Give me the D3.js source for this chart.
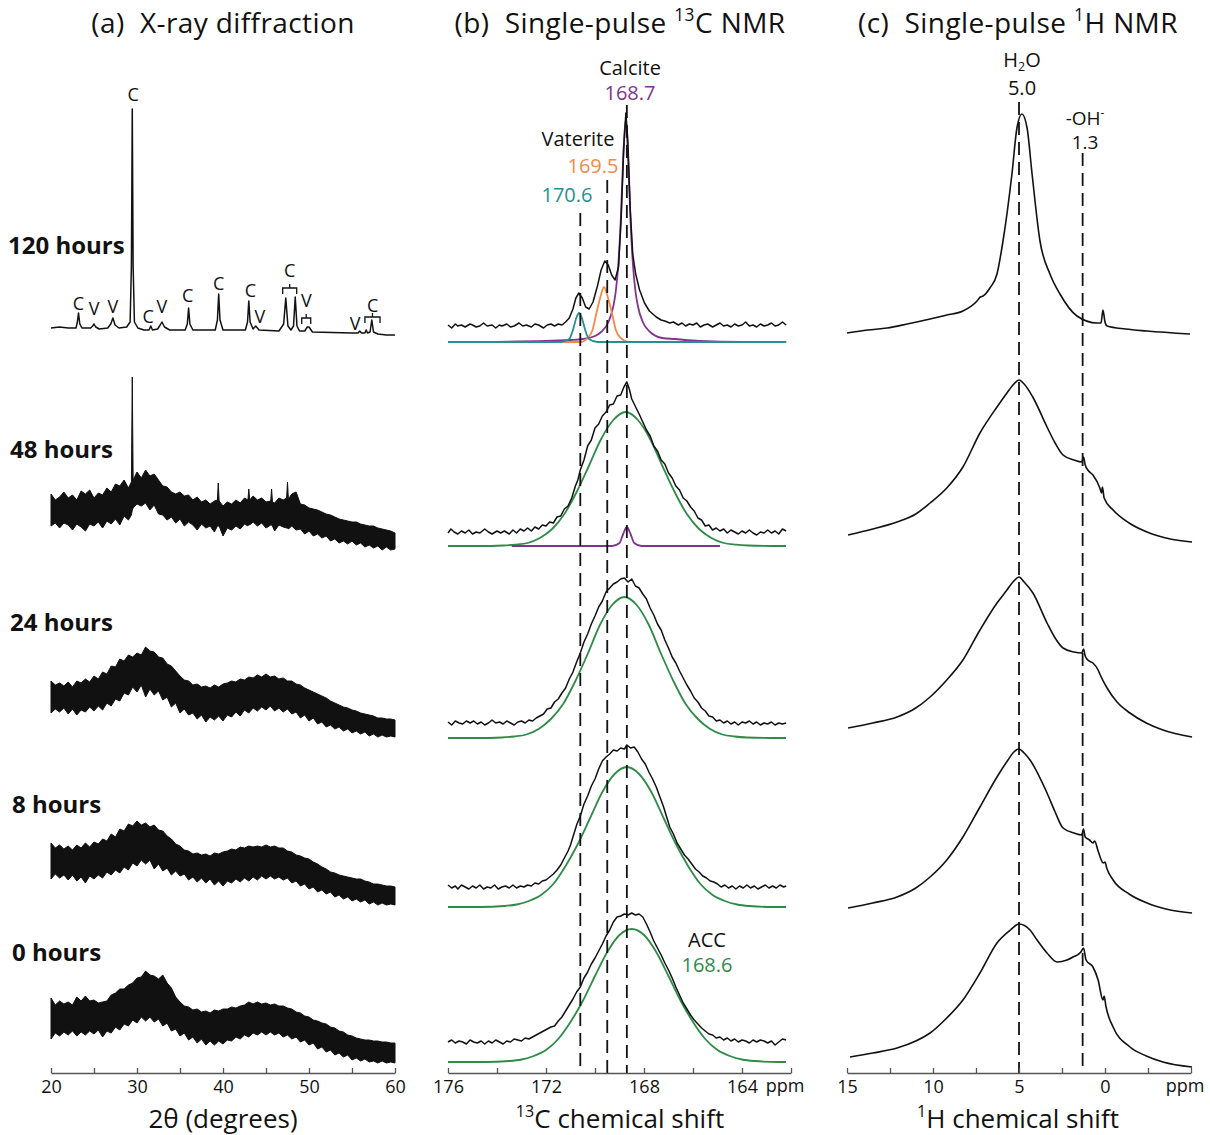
<!DOCTYPE html>
<html>
<head>
<meta charset="utf-8">
<script src="https://cdn.jsdelivr.net/npm/d3@7"></script>
<style>
  body { margin: 0; background: #fff; }
  text { font-family: "Open Sans", sans-serif; fill: #111; white-space: pre; }
</style>
</head>
<body>
<svg id="chart" width="1210" height="1135"></svg>
<script>
// ---- data ----
const hourLabels = ['120 hours', '48 hours', '24 hours', '8 hours', '0 hours'];

// XRD, 120 h: [2theta, intensity a.u.]
const xrd120 = [[20,8],[21,9],[22,8],[22.9,8],[23.05,13],[23.2,23],[23.35,12],[23.6,8],[24.6,8],[24.85,10],[25.0,12],[25.2,9],[25.6,7],
  [26.6,8],[26.95,12],[27.2,18],[27.45,11],[27.9,8],[28.8,9],[29.2,14],[29.35,70],[29.45,227],[29.55,70],[29.7,14],[30.1,8],[30.8,6],
  [31.4,6],[31.6,10],[31.8,6],[32.4,7],[32.7,11],[32.9,14],[33.2,9],[33.8,6],[35.6,6],[35.85,12],[36.0,28],[36.15,12],[36.5,6],
  [39.1,6],[39.35,16],[39.5,42],[39.65,16],[40,6],[42.6,6],[42.85,14],[43.0,35],[43.15,14],[43.5,7],[43.8,10],[44.2,6],[46.5,5],
  [46.9,10],[47.05,12],[47.3,38],[47.55,10],[47.9,6],[48.2,10],[48.4,39],[48.6,10],[48.9,5],[49.5,5],[49.8,9],[50.0,9],[50.4,4],
  [55,3],[55.7,3],[55.9,5],[56.1,3],[56.5,3],[56.65,6],[56.8,3],[57.1,4],[57.3,16],[57.5,4],[58,2],[59,1],[60,1]];

// XRD, noisy patterns: [2theta, lower edge, upper edge] of the noise band
const xrd48 = [[20,24,56],[20.5,27,50],[21,22,53],[21.5,27,58],[22,25,52],[22.5,20,55],[23,26,50],[23.5,23,59],[24,19,56],
  [24.5,26,60],[25,24,52],[25.5,28,57],[26,22,55],[26.5,29,62],[27,26,58],[27.5,31,66],[28,25,64],[28.5,34,70],[29,30,62],
  [29.35,35,68],[29.45,40,173],[29.55,42,70],[30,46,78],[30.5,44,72],[31,47,80],[31.5,40,74],[32,45,76],[32.5,36,70],[33,35,64],
  [33.5,30,63],[34,33,58],[34.5,27,56],[35,31,58],[35.5,24,54],[36,28,55],[36.5,25,50],[37,20,53],[37.5,26,48],[38,22,50],
  [38.5,24,46],[39,18,49],[39.35,24,50],[39.45,24,67],[39.55,24,49],[40,14,44],[40.5,22,48],[41,20,46],[41.5,24,50],[42,21,47],
  [42.5,26,52],[42.9,24,50],[43.0,26,61],[43.1,25,50],[43.5,28,54],[44,24,50],[44.5,27,52],[45,22,48],[45.55,25,49],[45.65,25,61],
  [45.75,24,48],[46,19,47],[46.5,25,52],[47,23,50],[47.4,22,52],[47.5,22,68],[47.6,21,51],[48,24,56],[48.5,20,58],[49,21,46],
  [49.5,16,45],[50,19,42],[50.5,14,41],[51,16,40],[51.5,12,38],[52,14,36],[52.5,9,35],[53,11,33],[53.5,7,31],[54,9,30],[54.5,6,29],
  [55,9,28],[55.5,5,28],[56,7,26],[56.5,3,25],[57,5,24],[57.5,2,24],[58,4,22],[58.5,0,21],[59,3,20],[59.5,0,19],[60,1,17]];
const xrd24 = [[20,24,56],[20.5,28,52],[21,25,54],[21.5,29,51],[22,23,55],[22.5,28,50],[23,22,56],[23.5,27,54],[24,25,58],
  [24.5,30,55],[25,26,61],[25.5,31,58],[26,27,65],[26.5,34,63],[27,31,71],[27.5,38,70],[28,36,78],[28.5,44,76],[29,42,82],
  [29.5,50,80],[30,45,84],[30.5,52,82],[31,40,90],[31.5,48,86],[32,42,85],[32.5,46,80],[33,37,79],[33.5,40,73],[34,30,71],
  [34.5,34,66],[35,24,61],[35.5,28,57],[36,22,56],[36.5,24,52],[37,18,53],[37.5,22,50],[38,15,51],[38.5,20,49],[39,17,52],
  [39.5,21,50],[40,16,53],[40.5,22,54],[41,20,56],[41.5,25,55],[42,21,58],[42.5,27,57],[43,24,60],[43.5,29,59],[44,26,62],
  [44.5,30,60],[45,27,63],[45.5,31,60],[46,26,61],[46.5,29,58],[47,25,59],[47.5,28,56],[48,23,56],[48.5,25,53],[49,19,52],
  [49.5,22,49],[50,16,47],[50.5,19,45],[51,13,43],[51.5,15,41],[52,10,39],[52.5,12,36],[53,8,34],[53.5,10,32],[54,6,30],
  [54.5,8,29],[55,4,27],[55.5,6,26],[56,3,24],[56.5,5,23],[57,1,22],[57.5,3,21],[58,0,19],[58.5,2,19],[59,0,18],[59.5,1,18],[60,0,17]];
const xrd8 = [[20,26,62],[20.5,31,57],[21,27,60],[21.5,30,56],[22,25,59],[22.5,30,55],[23,24,60],[23.5,28,57],[24,22,62],
  [24.5,29,58],[25,26,63],[25.5,30,61],[26,27,66],[26.5,33,64],[27,30,71],[27.5,35,68],[28,32,76],[28.5,38,74],[29,35,81],
  [29.5,42,79],[30,39,84],[30.5,45,80],[31,41,82],[31.5,45,78],[32,36,80],[32.5,41,75],[33,34,74],[33.5,37,69],[34,30,66],
  [34.5,34,61],[35,29,59],[35.5,31,55],[36,25,54],[36.5,28,51],[37,23,52],[37.5,27,50],[38,22,51],[38.5,26,49],[39,20,52],
  [39.5,24,51],[40,19,53],[40.5,24,54],[41,22,56],[41.5,26,55],[42,23,58],[42.5,27,57],[43,24,59],[43.5,28,58],[44,25,59],
  [44.5,29,58],[45,26,60],[45.5,29,58],[46,26,59],[46.5,28,57],[47,25,57],[47.5,27,54],[48,22,53],[48.5,24,50],[49,19,49],
  [49.5,21,47],[50,16,46],[50.5,18,43],[51,13,41],[51.5,15,38],[52,11,36],[52.5,13,33],[53,8,32],[53.5,10,30],[54,6,29],
  [54.5,8,28],[55,4,27],[55.5,6,26],[56,3,26],[56.5,5,24],[57,1,23],[57.5,3,21],[58,0,21],[58.5,2,20],[59,0,19],[59.5,1,19],[60,0,18]];
const xrd0 = [[20,24,65],[20.5,30,58],[21,27,62],[21.5,31,59],[22,28,61],[22.5,32,58],[23,27,66],[23.5,31,62],[24,28,67],
  [24.5,32,62],[25,29,63],[25.5,33,60],[26,26,61],[26.5,32,62],[27,30,68],[27.5,36,70],[28,33,74],[28.5,39,74],[29,37,78],
  [29.5,43,80],[30,40,85],[30.5,46,86],[31,42,92],[31.5,46,88],[32,41,87],[32.5,44,84],[33,37,88],[33.5,40,80],[34,32,75],
  [34.5,34,66],[35,27,61],[35.5,30,57],[36,23,56],[36.5,26,53],[37,20,54],[37.5,24,51],[38,18,52],[38.5,22,50],[39,18,53],
  [39.5,22,52],[40,19,54],[40.5,23,54],[41,22,56],[41.5,26,55],[42,24,57],[42.5,28,58],[43,26,61],[43.5,30,59],[44,28,61],
  [44.5,31,59],[45,28,60],[45.5,31,58],[46,28,59],[46.5,30,57],[47,26,57],[47.5,28,55],[48,24,54],[48.5,26,51],[49,21,50],
  [49.5,23,47],[50,18,46],[50.5,20,43],[51,14,42],[51.5,16,40],[52,11,39],[52.5,13,36],[53,8,35],[53.5,10,32],[54,6,31],
  [54.5,8,28],[55,3,27],[55.5,5,25],[56,2,24],[56.5,4,23],[57,1,23],[57.5,2,22],[58,0,22],[58.5,2,21],[59,0,21],[59.5,1,20],[60,0,20]];

// XRD peak assignments (120 h): [2theta, label height a.u., phase]
const xrdPeakLabels = [[23.2,26,'C'],[25.0,21,'V'],[27.2,23,'V'],[29.55,235,'C'],[31.3,13,'C'],[32.9,23,'V'],[35.9,34,'C'],
  [39.5,46,'C'],[43.2,39,'C'],[44.3,13,'V'],[47.75,59,'C'],[49.7,29,'V'],[55.35,6,'V'],[57.4,24,'C']];
// grouped reflections: [from, to, height a.u.]
const xrdBrackets = [[46.94,48.57,48],[49.15,50.2,18],[56.5,58.26,19]];

// 13C single-pulse spectra: [ppm, intensity a.u.]
const c13Exp120 = [[176,17],[175.85,14],[175.7,18],[175.6,16],[175.45,17],[175.3,15],[175.1,18],[175,17],[174.85,15],[174.7,16],
  [174.55,19],[174.4,16],[174.2,17],[174.05,14],[173.9,17],[173.8,16],[173.6,18],[173.45,15],[173.3,16],[173.1,19],[172.95,16],
  [172.8,17],[172.6,15],[172.45,18],[172.3,17],[172.1,14],[171.95,17],[171.8,18],[171.65,16],[171.5,18],[171.35,17],[171.2,20],
  [171.05,24],[170.9,33],[170.78,44],[170.66,49],[170.52,44],[170.38,35],[170.24,33],[170.08,40],[169.9,56],[169.75,72],
  [169.6,81],[169.46,77],[169.32,67],[169.18,62],[169.04,75],[168.93,125],[168.83,192],[168.74,229],[168.66,202],[168.56,132],
  [168.46,88],[168.34,68],[168.18,52],[167.98,39],[167.78,31],[167.5,25],[167.3,22],[167.15,21],[166.95,19],[166.8,20],[166.6,17],
  [166.45,19],[166.3,16],[166.15,18],[166,17],[165.85,19],[165.7,15],[165.55,17],[165.4,18],[165.2,15],[165.05,17],[164.9,19],
  [164.75,16],[164.6,17],[164.45,15],[164.3,18],[164.15,16],[164,17],[163.85,20],[163.7,16],[163.55,17],[163.4,15],[163.25,18],
  [163.1,16],[162.95,17],[162.8,19],[162.65,16],[162.5,17],[162.35,20],[162.2,17]];
const c13Exp48 = [[176,13],[175.88,17],[175.75,14],[175.6,12],[175.45,15],[175.3,13],[175.15,16],[175,12],[174.85,14],[174.7,13],
  [174.5,17],[174.35,14],[174.2,12],[174,15],[173.85,13],[173.7,15],[173.5,12],[173.35,16],[173.2,13],[173.05,17],[172.9,15],
  [172.75,18],[172.6,15],[172.45,19],[172.3,17],[172.15,21],[172,20],[171.85,24],[171.7,23],[171.55,29],[171.4,30],[171.25,37],
  [171.1,40],[170.95,48],[170.8,60],[170.7,66],[170.6,76],[170.45,86],[170.3,100],[170.15,106],[170,118],[169.85,122],[169.7,130],
  [169.55,134],[169.4,141],[169.25,142],[169.1,150],[168.95,151],[168.82,159],[168.7,164],[168.6,157],[168.5,147],[168.42,143],
  [168.3,137],[168.18,131],[168.05,124],[167.9,116],[167.75,110],[167.6,100],[167.45,95],[167.3,86],[167.15,82],[167,73],
  [166.85,68],[166.7,60],[166.55,56],[166.4,48],[166.25,45],[166.1,39],[165.95,35],[165.8,28],[165.65,26],[165.5,20],[165.35,21],
  [165.2,16],[165.05,18],[164.9,15],[164.75,17],[164.6,13],[164.45,16],[164.3,14],[164.15,12],[164,15],[163.85,13],[163.7,16],
  [163.55,13],[163.4,11],[163.25,14],[163.1,13],[162.95,16],[162.8,13],[162.65,15],[162.5,12],[162.35,17],[162.2,15]];
const c13Exp24 = [[176,16],[175.85,13],[175.7,17],[175.55,15],[175.4,14],[175.25,17],[175.1,15],[174.95,17],[174.8,14],
  [174.65,16],[174.5,13],[174.35,15],[174.2,18],[174.05,15],[173.9,16],[173.75,14],[173.6,17],[173.45,15],[173.3,13],[173.15,16],
  [173,17],[172.85,15],[172.7,18],[172.55,17],[172.4,20],[172.25,22],[172.1,24],[171.95,29],[171.8,30],[171.65,36],[171.5,39],
  [171.35,45],[171.2,50],[171.05,59],[170.9,66],[170.75,76],[170.6,85],[170.45,96],[170.3,104],[170.15,114],[170,122],
  [169.85,131],[169.7,137],[169.55,146],[169.4,150],[169.25,154],[169.1,156],[168.95,159],[168.8,160],[168.65,156],[168.5,159],
  [168.35,152],[168.2,150],[168.05,144],[167.9,139],[167.75,130],[167.6,123],[167.45,114],[167.3,108],[167.15,98],[167,90],
  [166.85,81],[166.7,75],[166.55,67],[166.4,60],[166.25,53],[166.1,47],[165.95,40],[165.8,36],[165.65,30],[165.5,27],[165.35,22],
  [165.2,21],[165.05,17],[164.9,18],[164.75,15],[164.6,17],[164.45,14],[164.3,16],[164.15,13],[164,16],[163.85,15],[163.7,17],
  [163.55,14],[163.4,16],[163.25,13],[163.1,15],[162.95,14],[162.8,16],[162.65,13],[162.5,15],[162.35,14],[162.2,15]];
const c13Exp8 = [[176,22],[175.85,19],[175.7,21],[175.6,18],[175.45,22],[175.3,20],[175.15,18],[175,21],[174.85,19],[174.7,22],
  [174.55,18],[174.4,20],[174.25,19],[174.1,22],[173.95,18],[173.8,20],[173.65,21],[173.5,19],[173.35,22],[173.2,19],[173.05,21],
  [172.9,20],[172.75,22],[172.6,21],[172.45,24],[172.3,23],[172.15,26],[172,27],[171.85,30],[171.7,33],[171.55,37],[171.4,42],
  [171.25,49],[171.1,56],[171,62],[170.9,70],[170.75,82],[170.6,91],[170.45,103],[170.3,111],[170.15,121],[170,128],[169.85,138],
  [169.7,146],[169.55,150],[169.4,153],[169.25,157],[169.1,156],[168.95,159],[168.8,158],[168.7,162],[168.55,159],[168.4,160],
  [168.25,155],[168.1,148],[167.95,143],[167.8,135],[167.65,128],[167.5,120],[167.35,110],[167.2,100],[167.05,88],[166.95,80],
  [166.8,73],[166.65,64],[166.5,58],[166.35,52],[166.2,48],[166.05,43],[165.9,38],[165.75,35],[165.6,31],[165.45,29],[165.3,26],
  [165.15,25],[165,23],[164.85,20],[164.7,22],[164.55,19],[164.4,21],[164.25,18],[164.1,21],[163.95,19],[163.8,22],[163.65,19],
  [163.5,21],[163.35,18],[163.2,20],[163.05,22],[162.9,19],[162.75,21],[162.6,19],[162.45,22],[162.3,20],[162.2,21]];
const c13Exp0 = [[176,20],[175.85,22],[175.7,19],[175.55,21],[175.4,20],[175.25,18],[175.1,22],[174.95,20],[174.8,19],[174.65,21],
  [174.5,18],[174.35,21],[174.2,19],[174.05,22],[173.9,20],[173.75,18],[173.6,21],[173.45,20],[173.3,23],[173.15,22],[173,21],
  [172.85,24],[172.7,23],[172.55,25],[172.4,27],[172.25,29],[172.1,31],[171.95,33],[171.8,35],[171.65,36],[171.5,41],[171.35,45],
  [171.2,51],[171.05,57],[170.9,63],[170.75,70],[170.6,75],[170.45,84],[170.3,90],[170.15,98],[170,104],[169.85,111],[169.7,118],
  [169.55,126],[169.4,132],[169.25,140],[169.1,145],[168.95,146],[168.8,148],[168.65,147],[168.5,149],[168.35,147],[168.2,148],
  [168.05,145],[167.9,138],[167.75,130],[167.6,121],[167.45,114],[167.3,107],[167.15,99],[167,92],[166.85,84],[166.7,75],
  [166.55,67],[166.4,59],[166.25,53],[166.1,47],[165.95,42],[165.8,38],[165.65,34],[165.5,31],[165.35,28],[165.2,27],[165.05,24],
  [164.9,25],[164.75,22],[164.6,24],[164.45,21],[164.3,23],[164.15,20],[164,22],[163.85,21],[163.7,19],[163.55,22],[163.4,20],
  [163.25,22],[163.1,21],[162.95,19],[162.8,21],[162.65,17],[162.5,20],[162.35,23],[162.2,22]];

// 13C fitted components: [ppm, intensity a.u.]
const accFit48 = [[176,0],[174.75,0],[173.75,0.5],[173.25,1.3],[172.75,3],[172.25,8],[171.75,17],[171.25,32],[170.75,54],[170.25,80],
  [169.75,107],[169.25,126],[168.75,134],[168.25,126],[167.75,107],[167.25,80],[166.75,54],[166.25,32],[165.75,17],[165.25,8],
  [164.75,3],[164.25,1.3],[163.75,0.5],[162.75,0],[162.2,0]];
const accFit24 = [[176,0],[174.8,0],[173.8,0.5],[173.3,1.5],[172.8,3.5],[172.3,9],[171.8,19],[171.3,34],[170.8,57],[170.3,84],
  [169.8,113],[169.3,133],[168.8,141],[168.3,133],[167.8,113],[167.3,84],[166.8,57],[166.3,34],[165.8,19],[165.3,9],[164.8,3.5],
  [164.3,1.5],[163.8,0.5],[162.8,0],[162.2,0]];
const accFit8 = [[176,0],[174.7,0],[173.7,1],[173.2,2.5],[172.7,6],[172.2,12],[171.7,23],[171.2,41],[170.7,63],[170.2,89],
  [169.7,115],[169.2,133],[168.7,140],[168.2,133],[167.7,115],[167.2,89],[166.7,63],[166.2,41],[165.7,23],[165.2,12],[164.7,6],
  [164.2,2.5],[163.7,1],[162.7,0],[162.2,0]];
const accFit0 = [[176,0],[174.5,0],[173.5,1],[173,2.5],[172.5,6],[172,12],[171.5,23],[171,40],[170.5,61],[170,86],[169.5,110],
  [169,127],[168.5,133],[168,127],[167.5,110],[167,86],[166.5,61],[166,40],[165.5,23],[165,12],[164.5,6],[164,2.5],[163.5,1],
  [162.5,0],[162.2,0]];
const calciteFit120 = [[176,0],[172,1],[171,2],[170.5,3],[170,6],[169.75,10],[169.45,20],[169.25,36],[169.15,51],[169.05,77],
  [168.95,121],[168.85,184],[168.75,222],[168.65,184],[168.55,121],[168.45,77],[168.35,51],[168.25,36],[168.05,20],[167.75,10],
  [167.25,4],[166.75,3],[165.75,1],[164,0],[162.2,0]];
const calciteFit48 = [[173.4,0],[169.3,0],[169.0,3],[168.85,12],[168.7,19],[168.55,12],[168.4,3],[168.1,0],[164.9,0]];
const vateriteFitA = [[176,0],[170.6,0],[170.3,4],[170.1,12],[169.95,28],[169.78,45],[169.63,55],[169.48,45],[169.3,28],
  [169.15,12],[168.95,4],[168.6,0],[162.2,0]];
const vateriteFitB = [[176,0],[171.4,0],[171.05,3],[170.9,12],[170.75,25],[170.65,29],[170.55,25],[170.4,12],[170.25,3],
  [169.9,0],[162.2,0]];
const c13Refs = [170.6, 169.5, 168.7];

// 1H single-pulse spectra: [ppm, intensity a.u.]
const h1Exp120 = [[15,1],[13.8,4],[12.67,6],[11.5,10],[10.17,15],[9.2,19],[8.26,23],[7.44,33],[7.25,37],[7.09,38],[6.69,46],
  [6.28,60],[5.93,93],[5.41,160],[5.12,206],[4.83,220],[4.53,206],[4.24,160],[3.78,93],[3.2,60],[2.62,40],[1.63,18],[0.47,11],
  [0.23,11],[0.12,24],[0.0,12],[-0.12,8],[-1.2,5],[-2.44,3],[-4.94,0]];
const h1Exp48 = [[14.94,10],[13.5,16],[12.09,23],[11,31],[10.17,42],[9.2,57],[8.26,78],[7.27,112],[6.28,138],[5.7,152],[5.3,161],
  [5.0,165],[4.7,161],[4.2,148],[3.37,118],[2.9,102],[2.44,90],[1.8,85],[1.35,83],[1.25,88],[1.15,80],[1.0,75],[0.7,70],[0.3,57],
  [0.2,52],[0.15,58],[0.05,47],[-0.47,35],[-1.4,22],[-2.44,13],[-3.8,6],[-5.06,3]];
const h1Exp24 = [[14.94,12],[13.5,17],[12.09,23],[11,32],[10.17,43],[9.2,60],[8.26,80],[7.27,110],[6.28,137],[5.7,150],[5.3,159],
  [5.0,163],[4.7,158],[4.19,147],[3.37,117],[2.9,102],[2.44,92],[1.8,88],[1.35,87],[1.25,91],[1.15,84],[1.0,80],[0.7,77],[0.4,70],
  [0.3,66],[-0.12,52],[-0.7,38],[-1.45,27],[-2.4,17],[-3.37,10],[-5.06,3]];
const h1Exp8 = [[14.94,7],[13.5,12],[12.09,18],[11,27],[10.17,38],[9.2,55],[8.26,78],[7.27,108],[6.28,138],[5.64,155],[5.3,163],
  [5.0,166],[4.7,162],[4.36,155],[3.37,122],[2.9,103],[2.44,87],[1.8,82],[1.35,80],[1.25,86],[1.15,78],[0.9,75],[0.7,72],[0.6,74],
  [0.4,64],[0.1,52],[0.0,53],[-0.1,47],[-0.47,35],[-1.4,21],[-2.44,12],[-3.8,5],[-5.06,2]];
const h1Exp0 = [[14.83,11],[13.5,15],[12.09,20],[11,27],[10.17,35],[9.2,50],[8.26,68],[7.27,95],[6.28,125],[5.5,138],[5.0,144],
  [4.36,138],[3.95,128],[3.37,115],[2.79,106],[2.21,108],[1.86,111],[1.4,116],[1.25,120],[1.1,108],[0.7,101],[0.4,88],[0.12,68],
  [0.05,72],[-0.05,62],[-0.47,41],[-1.45,21],[-2.4,12],[-3.37,6],[-5.06,1]];
const h1Refs = [5.0, 1.3];

// ---- layout ----
const svg = d3.select('#chart');
const axisY = 1073;
const ink = '#111';
const colors = { acc: '#2e8b48', calcite: '#80348e', vatA: '#f5894a', vatB: '#23918e' };

const xXrd = d3.scaleLinear().domain([20, 60]).range([51, 395]);
const xC = d3.scaleLinear().domain([176, 162]).range([448, 791]);
const xH = d3.scaleLinear().domain([15, -5]).range([847, 1191]);

// baseline (px) of each stacked trace: 120, 48, 24, 8, 0 h
const xrdBase = [336, 550, 737, 905, 1063];
const c13Base = [342, 546, 738, 907, 1062];
const h1Base = [334, 545, 740, 915, 1068];
const rowY = base => d3.scaleLinear().domain([0, 100]).range([base, base - 100]);

function addText(g, x, y, parts, size, anchor, color) {
    const t = g.append('text')
        .attr('x', x).attr('y', y)
        .attr('text-anchor', anchor || 'middle')
        .style('font-size', size + 'px')
        .style('fill', color || ink);
    let shift = 0;
    for (const [str, kind] of parts) {
        const s = t.append('tspan').text(str);
        let target = 0;
        if (kind === 'sup') { target = -size * 0.42; s.style('font-size', (size * 0.62) + 'px'); }
        if (kind === 'sub') { target = size * 0.22; s.style('font-size', (size * 0.62) + 'px'); }
        if (target !== shift) { s.attr('dy', target - shift); shift = target; }
    }
    return t;
}

// ---- (a) XRD ----
const gA = svg.append('g');
const xrdBands = [xrd48, xrd24, xrd8, xrd0];

{
    const y = rowY(xrdBase[0]);
    gA.append('path')
        .datum(xrd120)
        .attr('d', d3.line().x(d => xXrd(d[0])).y(d => y(d[1])))
        .attr('fill', 'none').attr('stroke', ink).attr('stroke-width', 1.5)
        .attr('stroke-linejoin', 'round');

    xrdPeakLabels.forEach(([t, h, lab]) => {
        addText(gA, xXrd(t), y(h), [[lab]], 18);
    });

    xrdBrackets.forEach(([a, b, h]) => {
        const m = (a + b) / 2;
        gA.append('path')
            .attr('d', `M${xXrd(a)},${y(h - 6)}V${y(h)}H${xXrd(b)}V${y(h - 6)}M${xXrd(m)},${y(h)}V${y(h + 4)}`)
            .attr('fill', 'none').attr('stroke', ink).attr('stroke-width', 1.3);
    });
}

xrdBands.forEach((band, i) => {
    const y = rowY(xrdBase[i + 1]);
    gA.append('path')
        .datum(band)
        .attr('d', d3.area().x(d => xXrd(d[0])).y0(d => y(d[1])).y1(d => y(d[2])))
        .attr('fill', ink).attr('stroke', ink).attr('stroke-width', 1)
        .attr('stroke-linejoin', 'miter');
});

const hourPos = [[8, 254], [10, 458], [10, 631], [12, 813], [12, 961]];
hourLabels.forEach((lab, i) => {
    gA.append('text')
        .attr('x', hourPos[i][0]).attr('y', hourPos[i][1])
        .style('font-size', '24px').style('font-weight', 700)
        .text(lab);
});

// ---- (b) 13C NMR ----
const gB = svg.append('g');
const c13Exp = [c13Exp120, c13Exp48, c13Exp24, c13Exp8, c13Exp0];
const accFits = [null, accFit48, accFit24, accFit8, accFit0];

c13Exp.forEach((spec, i) => {
    const y = rowY(c13Base[i]);
    const smooth = d3.line().x(d => xC(d[0])).y(d => y(d[1])).curve(d3.curveMonotoneX);
    const fits = [];
    if (accFits[i]) fits.push([accFits[i], colors.acc]);
    if (i === 0) {
        fits.push([calciteFit120, colors.calcite], [vateriteFitA, colors.vatA], [vateriteFitB, colors.vatB]);
    }
    if (i === 1) fits.push([calciteFit48, colors.calcite]);
    fits.forEach(([pts, col]) => {
        gB.append('path').datum(pts).attr('d', smooth)
            .attr('fill', 'none').attr('stroke', col).attr('stroke-width', 1.8);
    });
    gB.append('path')
        .datum(spec)
        .attr('d', d3.line().x(d => xC(d[0])).y(d => y(d[1])))
        .attr('fill', 'none').attr('stroke', ink).attr('stroke-width', 1.5)
        .attr('stroke-linejoin', 'round');
});

const c13RefTop = [213, 180, 105];
c13Refs.forEach((p, i) => {
    gB.append('line')
        .attr('x1', xC(p)).attr('x2', xC(p))
        .attr('y1', c13RefTop[i]).attr('y2', axisY)
        .attr('stroke', ink).attr('stroke-width', 1.8).attr('stroke-dasharray', '13,7');
});

addText(gB, 630, 75, [['Calcite']], 20);
addText(gB, 630, 100, [['168.7']], 20, 'middle', colors.calcite);
addText(gB, 578, 146, [['Vaterite']], 20);
addText(gB, 593, 173, [['169.5']], 20, 'middle', colors.vatA);
addText(gB, 567, 202, [['170.6']], 20, 'middle', colors.vatB);
addText(gB, 707, 947, [['ACC']], 20);
addText(gB, 707, 972, [['168.6']], 20, 'middle', colors.acc);

// ---- (c) 1H NMR ----
const gC = svg.append('g');
const h1Exp = [h1Exp120, h1Exp48, h1Exp24, h1Exp8, h1Exp0];
h1Exp.forEach((spec, i) => {
    const y = rowY(h1Base[i]);
    gC.append('path')
        .datum(spec)
        .attr('d', d3.line().x(d => xH(d[0])).y(d => y(d[1])).curve(d3.curveMonotoneX))
        .attr('fill', 'none').attr('stroke', ink).attr('stroke-width', 1.6);
});

const h1RefTop = [102, 153];
h1Refs.forEach((p, i) => {
    gC.append('line')
        .attr('x1', xH(p)).attr('x2', xH(p))
        .attr('y1', h1RefTop[i]).attr('y2', axisY)
        .attr('stroke', ink).attr('stroke-width', 1.8).attr('stroke-dasharray', '13,7');
});

addText(gC, 1022, 67, [['H'], ['2', 'sub'], ['O']], 20);
addText(gC, 1022, 95, [['5.0']], 20);
addText(gC, 1085, 125, [['-OH'], ['-', 'sup']], 19);
addText(gC, 1085, 149, [['1.3']], 19);

// ---- axes ----
function drawAxis(scale, ticks, labelled) {
    const g = svg.append('g')
        .attr('transform', `translate(0,${axisY})`)
        .call(d3.axisBottom(scale)
            .tickValues(ticks)
            .tickSizeInner(-5).tickSizeOuter(0).tickPadding(7)
            .tickFormat(d => labelled.includes(d) ? d : ''));
    g.select('.domain').attr('stroke', '#555').attr('stroke-width', 1.5);
    g.selectAll('.tick line').attr('stroke', '#555').attr('stroke-width', 1.3);
    g.selectAll('.tick text').style('font-size', '18px').style('fill', ink)
        .style('font-family', '"Open Sans", sans-serif');
    return g;
}
drawAxis(xXrd, d3.range(20, 61, 5), [20, 30, 40, 50, 60]);
drawAxis(xC, d3.range(176, 161, -2), [176, 172, 168, 164]);
drawAxis(xH, [15, 12.5, 10, 7.5, 5, 2.5, 0, -2.5, -5], [15, 10, 5, 0]);

addText(svg, 785, 1092, [['ppm']], 18);
addText(svg, 1185, 1092, [['ppm']], 18);

// axis titles
addText(svg, 223, 1128, [['2θ (degrees)']], 26);
addText(svg, 620, 1128, [['13', 'sup'], ['C chemical shift']], 26);
addText(svg, 1018, 1128, [['1', 'sup'], ['H chemical shift']], 26);

// panel titles
addText(svg, 223, 33, [['(a)  X-ray diffraction']], 28).style('letter-spacing', '0.4px');
addText(svg, 620, 33, [['(b)  Single-pulse '], ['13', 'sup'], ['C NMR']], 28).style('letter-spacing', '0.4px');
addText(svg, 1018, 33, [['(c)  Single-pulse '], ['1', 'sup'], ['H NMR']], 28).style('letter-spacing', '0.4px');
</script>
</body>
</html>
